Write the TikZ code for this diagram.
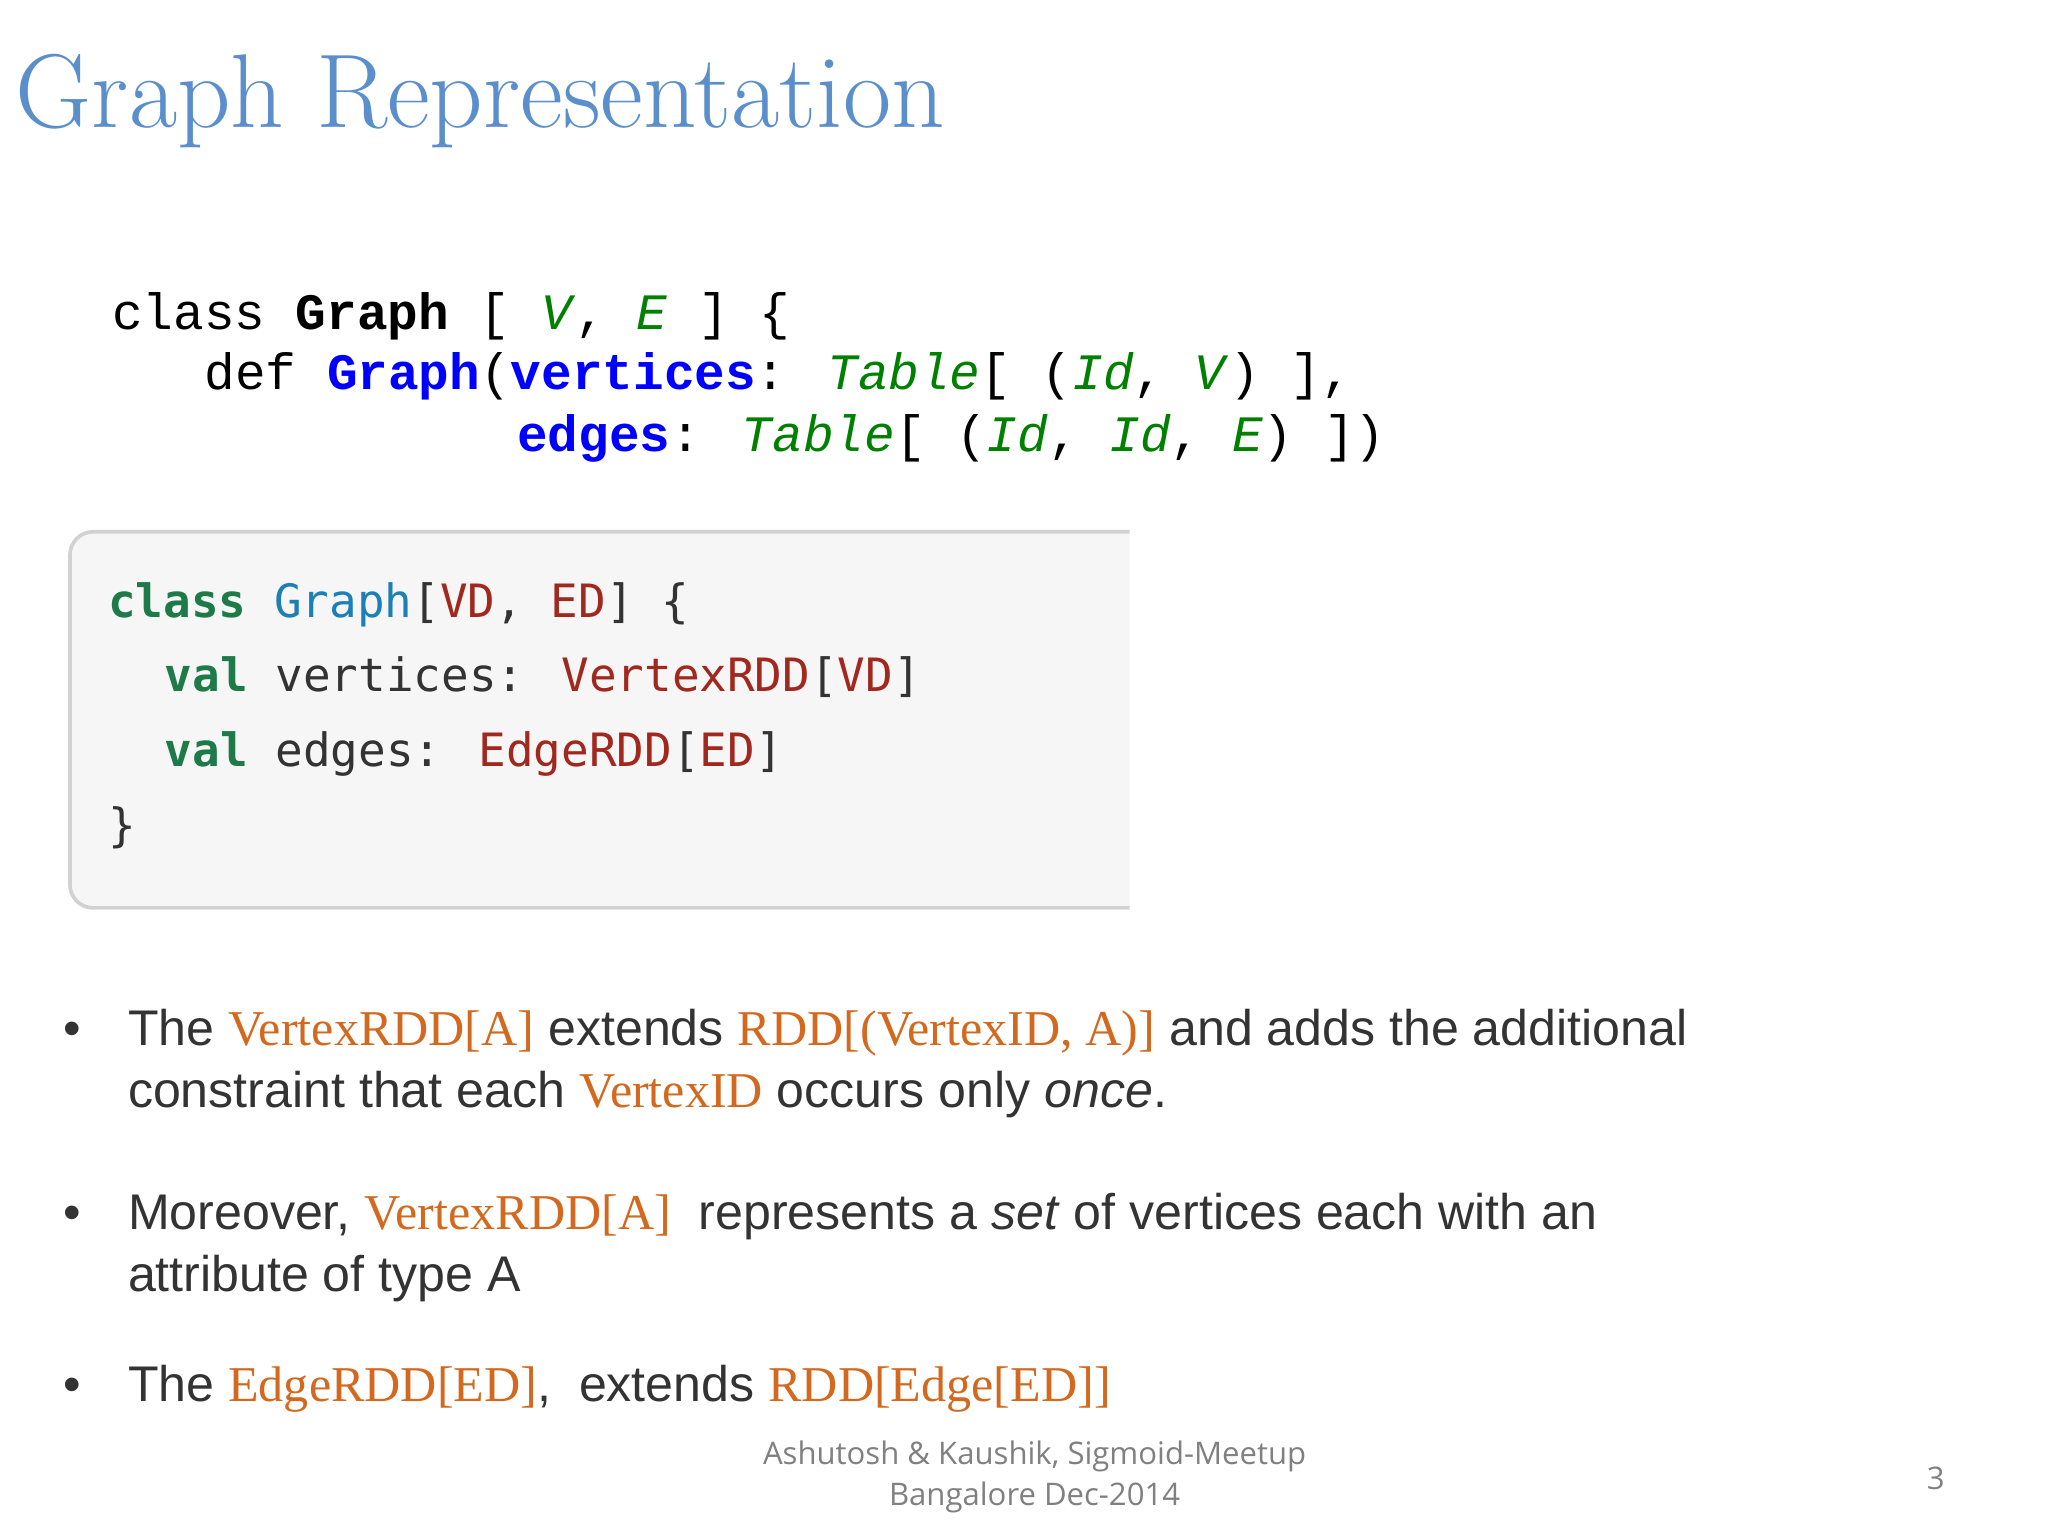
\documentclass[tikz,border=0pt]{standalone}
\usepackage{fontspec}
\setmainfont{Liberation Sans}
\newfontfamily\serifx{Liberation Serif}
\newfontfamily\lmr{Latin Modern Roman}
\newfontfamily\monoa{Liberation Mono}
\newfontfamily\monob{DejaVu Sans Mono}
\newfontfamily\foot{Open Sans}
\definecolor{titleblue}{HTML}{5B8FCC}
\definecolor{cgreen}{HTML}{008000}
\definecolor{cblue}{HTML}{0000FF}
\definecolor{kw}{HTML}{1F7A4A}
\definecolor{ty}{HTML}{1C7FB5}
\definecolor{tr}{HTML}{A0281E}
\definecolor{orng}{HTML}{D2691E}
\definecolor{txt}{HTML}{333333}
\begin{document}
\begin{tikzpicture}[x=0.01cm,y=-0.01cm,
  lbl/.style={anchor=base west,inner sep=0pt,outer sep=0pt},
  codea/.style={lbl,font=\monoa\fontsize{11}{13}\selectfont},
  codeb/.style={lbl,font=\monob\fontsize{9.9}{12}\selectfont,text=txt},
  bul/.style={lbl,font=\fontsize{10.8}{13}\selectfont,text=txt},
  footx/.style={font=\foot\fontsize{6.7}{8}\selectfont,text=gray,inner sep=0pt}]
\useasboundingbox (0,0) rectangle (1552,1164);
\node[lbl,font=\lmr\fontsize{22.6}{28}\selectfont,text=titleblue] (title) at (12,97) {Graph Representation};
\node[codea] (c1) at (85,250) {class \textbf{Graph} [ \textcolor{cgreen}{\textit{V}}, \textcolor{cgreen}{\textit{E}} ] \{};
\node[codea] (c2) at (155,295) {def \textcolor{cblue}{\textbf{Graph}}(\textcolor{cblue}{\textbf{vertices}}: \textcolor{cgreen}{\textit{Table}}[ (\textcolor{cgreen}{\textit{Id}}, \textcolor{cgreen}{\textit{V}}) ],};
\node[codea] (c3) at (392,342) {\textcolor{cblue}{\textbf{edges}}: \textcolor{cgreen}{\textit{Table}}[ (\textcolor{cgreen}{\textit{Id}}, \textcolor{cgreen}{\textit{Id}}, \textcolor{cgreen}{\textit{E}}) ])};
\fill[gray!7,rounded corners=5] (856,403) -- (53,403) -- (53,688) -- (856,688);
\draw[gray!35,line width=0.8pt,rounded corners=5] (856,403) -- (53,403) -- (53,688) -- (856,688);
\node[codeb] (b1) at (82,468) {\textcolor{kw}{\textbf{class}} \textcolor{ty}{Graph}[\textcolor{tr}{VD}, \textcolor{tr}{ED}] \{};
\node[codeb] (b2) at (125,524) {\textcolor{kw}{\textbf{val}} vertices: \textcolor{tr}{VertexRDD}[\textcolor{tr}{VD}]};
\node[codeb] (b3) at (125,581) {\textcolor{kw}{\textbf{val}} edges: \textcolor{tr}{EdgeRDD}[\textcolor{tr}{ED}]};
\node[codeb] (b4) at (82,638) {\}};
\foreach \yy/\n in {792/d1,932/d2,1062/d3}{\node[bul] (\n) at (48,\yy) {•};}
\node[bul] (t1) at (97,792) {The \textcolor{orng}{\serifx VertexRDD[A]} extends \textcolor{orng}{\serifx RDD[(VertexID, A)]} and adds the additional};
\node[bul] (t2) at (97,839) {constraint that each \textcolor{orng}{\serifx VertexID} occurs only \textit{once}.};
\node[bul] (t3) at (97,932) {Moreover, \textcolor{orng}{\serifx VertexRDD[A]}\ \ represents a \textit{set} of vertices each with an};
\node[bul] (t4) at (97,979) {attribute of type A};
\node[bul] (t5) at (97,1062) {The \textcolor{orng}{\serifx EdgeRDD[ED]},\ \ extends \textcolor{orng}{\serifx RDD[Edge[ED]]}};
\node[footx] (f1) at (784,1104) {Ashutosh \& Kaushik, Sigmoid-Meetup};
\node[footx] (f2) at (784,1135) {Bangalore Dec-2014};
\node[footx] (pg) at (1467,1120) {3};
\end{tikzpicture}
\end{document}
